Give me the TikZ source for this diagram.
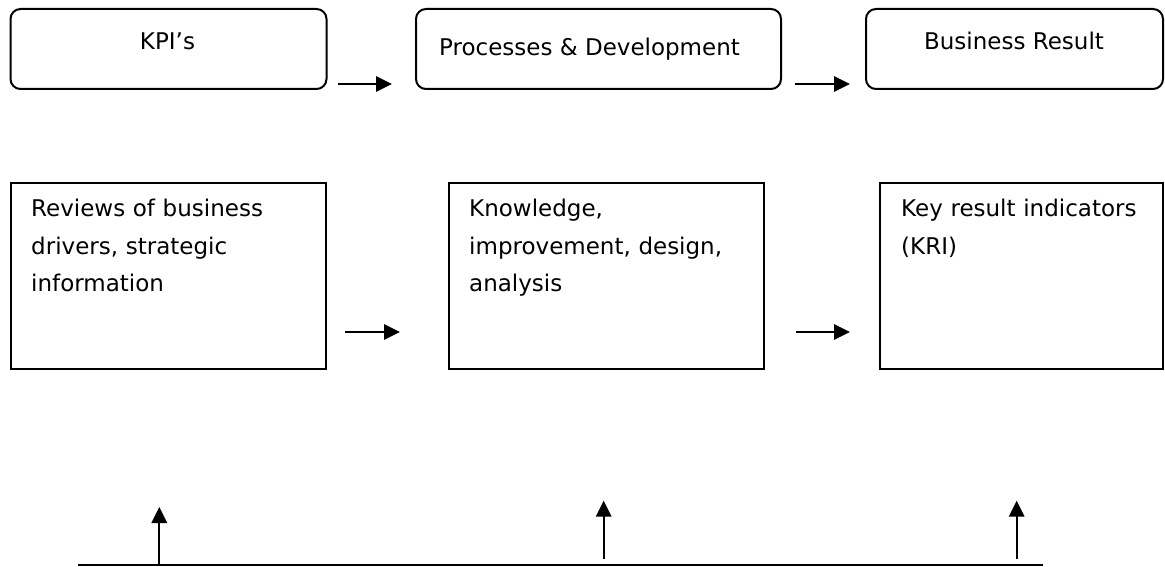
\documentclass[tikz,border=0pt]{standalone}
\usepackage{fontspec}
\setmainfont{DejaVu Sans}
\usetikzlibrary{arrows.meta}
\begin{document}
\begin{tikzpicture}[x=1pt,y=-1pt,
  topbox/.style={draw, line width=2pt, rounded corners=10pt, minimum height=80pt, anchor=north west, inner sep=0pt},
  midbox/.style={draw, line width=2pt, anchor=north west, inner sep=0pt, minimum height=186pt},
  lbl/.style={font=\fontsize{23}{37.5}\selectfont, inner sep=0pt},
  blk/.style={lbl, text width=285pt, align=left, anchor=base west},
  arr/.style={line width=1.8pt, -{Triangle[length=16pt,width=15.5pt]}},
  baseline/.style={line width=2.2pt}]
\useasboundingbox (0,0) rectangle (1165,567);
% top row
\node[topbox, minimum width=316pt] (k1) at (9.5,8) {};
\node[topbox, minimum width=365pt] (k2) at (415,8) {};
\node[topbox, minimum width=297pt] (k3) at (865,8) {};
\node[lbl, anchor=base] (k1t) at (167.5,50) {KPI’s};
\node[lbl, anchor=base] (k2t) at (589.5,56) {Processes \& Development};
\node[lbl, anchor=base] (k3t) at (1014,50) {Business Result};
\draw[arr] ([shift={(10,-6)}]k1.south east) -- ([shift={(-23,-6)}]k2.south west);
\draw[arr] ([shift={(13,-6)}]k2.south east) -- ([shift={(-15,-6)}]k3.south west);
% middle row
\node[midbox, minimum width=315pt] (m1) at (10,182) {};
\node[midbox, minimum width=315pt] (m2) at (448,182) {};
\node[midbox, minimum width=283pt] (m3) at (879,182) {};
\node[blk] (m1t) at (31,216.6) {Reviews of business\\drivers, strategic\\information};
\node[blk] (m2t) at (469,216.6) {Knowledge,\\improvement, design,\\analysis};
\node[blk, text width=255pt] (m3t) at (901,216.6) {Key result indicators\\(KRI)};
\draw[arr] ([shift={(18,-38)}]m1.south east) -- ([shift={(-48,-38)}]m2.south west);
\draw[arr] ([shift={(31,-38)}]m2.south east) -- ([shift={(-29,-38)}]m3.south west);
% bottom line and arrows
\coordinate (l1) at (78,565);
\coordinate (l2) at (1043,565);
\draw[baseline] (l1) -- (l2);
\coordinate (u1) at (159.3,507);
\coordinate (u2) at (603.7,500.7);
\coordinate (u3) at (1016.7,500.7);
\coordinate (s2) at (603.7,559);
\coordinate (s3) at (1016.7,559);
\draw[arr] (u1 |- l1) -- (u1);
\draw[arr] (s2) -- (u2);
\draw[arr] (s3) -- (u3);
\end{tikzpicture}
\end{document}
